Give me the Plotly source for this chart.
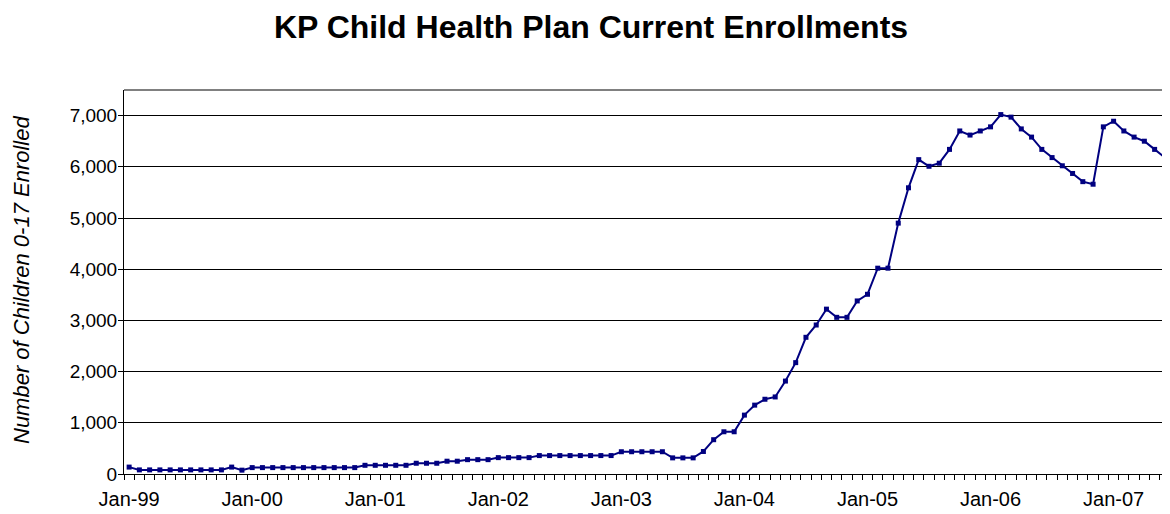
import pandas as pd
import plotly.graph_objects as go

# Categories: monthly, Jan-1999 .. Jun-2007
months = [d.strftime("%b-%y") for d in pd.date_range("1999-01-01", "2007-06-01", freq="MS")]

# Enrollment values (one per month)
enrollments = [
    135, 80, 80, 80, 80, 80, 80, 80, 80, 80, 135, 75,            # 1999
    125, 125, 125, 125, 125, 125, 125, 125, 125, 125, 125, 170,  # 2000
    170, 170, 170, 170, 210, 210, 210, 250, 250, 280, 280, 280,  # 2001
    320, 320, 320, 320, 360, 360, 360, 360, 360, 360, 360, 360,  # 2002
    435, 435, 435, 435, 435, 315, 315, 315, 440, 670, 825, 825,  # 2003
    1150, 1345, 1460, 1505, 1815, 2175, 2670, 2910, 3220, 3060, 3060, 3380,  # 2004
    3510, 4020, 4020, 4900, 5590, 6140, 6010, 6070, 6340, 6700, 6620, 6700,  # 2005
    6780, 7020, 6970, 6740, 6580, 6340, 6180, 6020, 5870, 5710, 5660, 6780,  # 2006
    6890, 6700, 6580, 6500, 6340, 6180,                          # 2007
]

tick_labels = ["Jan-99", "Jan-00", "Jan-01", "Jan-02", "Jan-03",
               "Jan-04", "Jan-05", "Jan-06", "Jan-07"]
y_ticks = [0, 1000, 2000, 3000, 4000, 5000, 6000, 7000]

title_text = "KP Child Health Plan Current Enrollments"
y_title = "Number of Children 0-17 Enrolled"

x_idx = list(range(len(months)))
tick_pos = [months.index(t) for t in tick_labels]

FONT = "Arial, Liberation Sans, sans-serif"
NAVY = "#000080"

W, H = 1162, 506
ML, MR, MT, MB = 116, 0, 82, 40
PW, PH = W - ML - MR, H - MT - MB

fig = go.Figure()
fig.add_trace(go.Scatter(
    x=x_idx, y=enrollments,
    customdata=months,
    mode="lines+markers",
    line=dict(color=NAVY, width=2),
    marker=dict(symbol="square", size=5, color=NAVY),
    hovertemplate="%{customdata}: %{y:,}<extra></extra>",
    showlegend=False,
))

fig.update_layout(
    width=W, height=H,
    margin=dict(l=ML, r=MR, t=MT, b=MB, autoexpand=False),
    paper_bgcolor="white", plot_bgcolor="white",
    font=dict(family=FONT, color="black", size=20),
    title=dict(
        text=title_text,
        x=(591 - 8) / W, xanchor="center",
        y=1 - (27 - 8) / H, yanchor="middle",
        font=dict(family=FONT, size=32, weight="bold", color="black"),
    ),
    xaxis=dict(
        range=[-0.5, len(months) - 0.5],
        tickmode="array", tickvals=tick_pos, ticktext=tick_labels,
        ticks="", showgrid=False, zeroline=False,
        showline=True, linecolor="black", linewidth=1,
        tickfont=dict(family=FONT, size=20, color="black"),
        ticklabelstandoff=7,
        automargin=False,
        minor=dict(ticks="outside", ticklen=5, tickcolor="black", tickwidth=1,
                   tick0=-0.5, dtick=1, showgrid=False),
    ),
    yaxis=dict(
        range=[0, 7500],
        tickmode="array", tickvals=y_ticks,
        tickformat=",d",
        ticks="outside", ticklen=5, tickcolor="black",
        showgrid=True, gridcolor="black", gridwidth=1,
        zeroline=False,
        showline=True, linecolor="black", linewidth=1,
        tickfont=dict(family=FONT, size=19, color="black"),
        ticklabelstandoff=-3,
        automargin=False,
    ),
    annotations=[dict(
        text=y_title, textangle=-90,
        xref="paper", yref="paper",
        x=(21 - 8 - ML) / PW, y=(MT + PH - (280 - 8)) / PH,
        xanchor="center", yanchor="middle", showarrow=False,
        font=dict(family=FONT, size=22, style="italic", color="black"),
    )],
    shapes=[dict(type="line", xref="paper", yref="paper", x0=0, x1=1, y0=1, y1=1,
                 line=dict(color="#808080", width=2))],
)

fig.write_html("out.html")
